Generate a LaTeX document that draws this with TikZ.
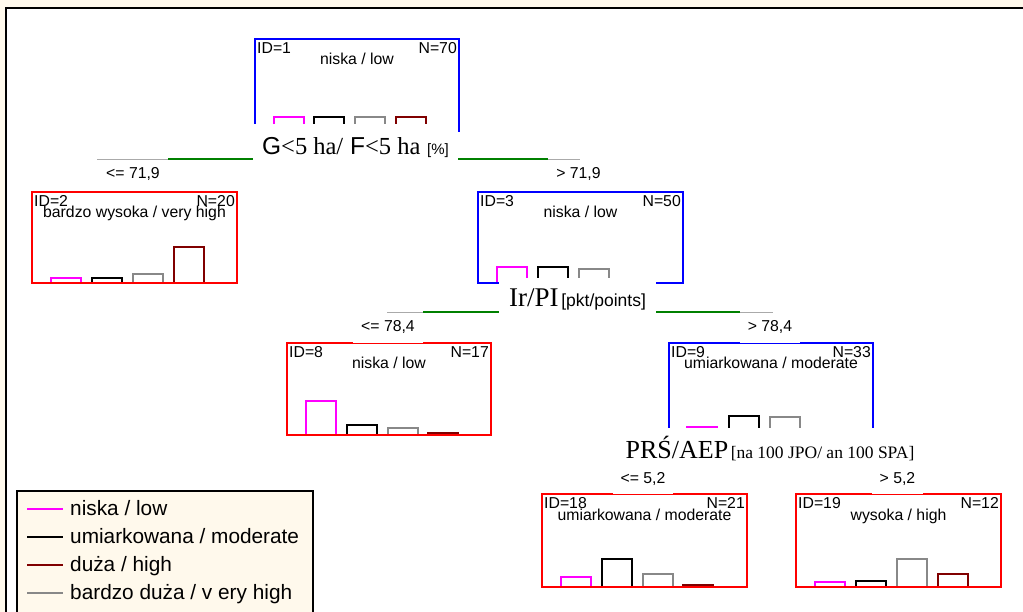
\documentclass[tikz,border=0pt]{standalone}
\usepackage{fontspec}
\setmainfont{Liberation Sans}
\newfontfamily\tnr{Liberation Serif}
\definecolor{cream}{RGB}{255,249,236}
\definecolor{pinkc}{RGB}{255,0,255}
\definecolor{dred}{RGB}{128,0,0}
\definecolor{barg}{RGB}{136,136,136}
\definecolor{tgreen}{RGB}{0,128,0}
\definecolor{thinl}{RGB}{170,170,170}
\definecolor{tblue}{RGB}{0,0,255}
\definecolor{tred}{RGB}{255,0,0}
\newcommand\tnode[9]{%
  \node[tbox=#2, minimum width=#5pt, minimum height=#6pt] (#1) at (#3,#4) {};
  \node[idt, anchor=base west] (#1id) at ([shift={(3,15.5)}]#1.north west) {ID=#7};
  \node[idt, anchor=base east] (#1n) at ([shift={(-3,15.5)}]#1.north east) {N=#8};
  \node[idt, anchor=base] (#1c) at ([shift={(0,27)}]#1.north) {#9};
}
\newcommand\tbar[4]{\draw[barline=#1] (#2,#4) -- (#2,#3) -- (#2+30,#3) -- (#2+30,#4);}
\begin{document}
\begin{tikzpicture}[x=1pt,y=-1pt,
  tbox/.style={draw=#1, line width=2pt, anchor=north west, inner sep=0pt},
  barline/.style={draw=#1, line width=1.8pt},
  idt/.style={font=\fontsize{15.8}{15.8}\selectfont, inner sep=0pt},
  splitbox/.style={fill=white, inner sep=0pt},
  clabel/.style={fill=white, inner sep=0pt, font=\fontsize{15.8}{15.8}\selectfont},
  gline/.style={draw=tgreen, line width=2pt},
  tline/.style={draw=thinl, line width=0.8pt},
  legtxt/.style={font=\fontsize{20.8}{20.8}\selectfont, inner sep=0pt, anchor=base west},
  legline/.style={line width=2pt}]
\useasboundingbox (0,0) rectangle (1023,612);
\clip (0,0) rectangle (1023,612);
\fill[cream] (0,0) rectangle (1023,612);
\draw[line width=2.5pt, fill=white] (6,8) rectangle (1040,640);

% tree nodes
\tnode{n1}{tblue}{254}{38}{204}{92}{1}{70}{niska / low}
\tnode{n2}{tred}{31}{191}{205}{91}{2}{20}{bardzo wysoka / very high}
\tnode{n3}{tblue}{477}{191}{205}{91}{3}{50}{niska / low}
\tnode{n8}{tred}{286}{342}{204}{92}{8}{17}{niska / low}
\tnode{n9}{tblue}{668}{342}{204}{91}{9}{33}{umiarkowana / moderate}
\tnode{n18}{tred}{541}{493}{205}{93}{18}{21}{umiarkowana / moderate}
\tnode{n19}{tred}{795}{493}{205}{93}{19}{12}{wysoka / high}

% bars
\tbar{pinkc}{274}{117}{130}\tbar{black}{314}{117}{130}\tbar{barg}{355}{117}{130}\tbar{dred}{396}{117}{130}
\tbar{pinkc}{51}{278}{282}\tbar{black}{92}{278}{282}\tbar{barg}{133}{274}{282}\tbar{dred}{174}{247}{282}
\tbar{pinkc}{497}{267}{282}\tbar{black}{538}{267}{282}\tbar{barg}{579}{269}{282}
\tbar{pinkc}{306}{401}{434}\tbar{black}{347}{425}{434}\tbar{barg}{388}{428}{434}\tbar{dred}{428}{433}{434}
\tbar{pinkc}{687}{427}{433}\tbar{black}{729}{416}{433}\tbar{barg}{770}{417}{433}
\tbar{pinkc}{561}{577}{586}\tbar{black}{602}{559}{586}\tbar{barg}{643}{574}{586}\tbar{dred}{683}{585}{586}
\tbar{pinkc}{815}{582}{586}\tbar{black}{856}{581}{586}\tbar{barg}{897}{559}{586}\tbar{dred}{938}{574}{586}

% split labels
\node[splitbox, minimum width=205pt, text height=31pt, text depth=7pt, anchor=base] (s1) at (355.5,155)
  {\fontsize{24.5}{24.5}\selectfont G{\tnr<5 ha/} F{\tnr<5 ha} {\fontsize{15}{15}\selectfont[\%]}};
\node[splitbox, minimum width=157pt, text height=29pt, text depth=8pt, anchor=base] (s2) at (577.5,307)
  {{\tnr\fontsize{27}{27}\selectfont Ir/PI} {\fontsize{17.5}{17.5}\selectfont[pkt/points]}};
\node[splitbox, minimum width=300pt, text height=30pt, text depth=10pt, anchor=base] (s3) at (770,458)
  {\tnr{\fontsize{26}{26}\selectfont PRŚ/AEP} {\fontsize{17.5}{17.5}\selectfont[na 100 JPO/ an 100 SPA]}};

% child labels
\node[clabel, minimum width=70pt, text height=17pt, text depth=12pt, anchor=base] (l2) at (133,179) {<= 71,9};
\node[clabel, minimum width=61pt, text height=17pt, text depth=12pt, anchor=base] (l3) at (578.5,179) {> 71,9};
\node[clabel, minimum width=70pt, text height=16pt, text depth=11pt, anchor=base] (l8) at (388,332) {<= 78,4};
\node[clabel, minimum width=60pt, text height=16pt, text depth=11pt, anchor=base] (l9) at (770,332) {> 78,4};
\node[clabel, minimum width=60pt, text height=11pt, text depth=11pt, anchor=base] (l18) at (643,483) {<= 5,2};
\node[clabel, minimum width=51pt, text height=11pt, text depth=11pt, anchor=base] (l19) at (897.5,483) {> 5,2};

% connectors
\coordinate (a1) at (97,159); \coordinate (b1) at (168,159);
\coordinate (b1r) at (548,159); \coordinate (a1r) at (580,159);
\draw[tline] (a1) -- (b1);
\draw[gline] (b1) -- (s1.west |- b1);
\draw[gline] (s1.east |- b1r) -- (b1r);
\draw[tline] (b1r) -- (a1r);
\coordinate (a2) at (387,312); \coordinate (b2) at (423,312);
\coordinate (b2r) at (740,312); \coordinate (a2r) at (773,312);
\draw[tline] (a2) -- (b2);
\draw[gline] (b2) -- (s2.west |- b2);
\draw[gline] (s2.east |- b2r) -- (b2r);
\draw[tline] (b2r) -- (a2r);

% legend
\node[draw=black, line width=2pt, fill=cream, minimum width=296pt, minimum height=140pt, anchor=north west, inner sep=0pt] (leg) at (16,490) {};
\draw[legline, pinkc] (27,509) -- (63,509);
\draw[legline, black] (27,537) -- (63,537);
\draw[legline, dred] (27,565) -- (63,565);
\draw[legline, barg] (27,593) -- (63,593);
\node[legtxt] (t1) at (70,515.5) {niska / low};
\node[legtxt] (t2) at (70,543.5) {umiarkowana / moderate};
\node[legtxt] (t3) at (70,571.5) {duża / high};
\node[legtxt] (t4) at (70,599.5) {bardzo duża / v ery  high};
\end{tikzpicture}
\end{document}
